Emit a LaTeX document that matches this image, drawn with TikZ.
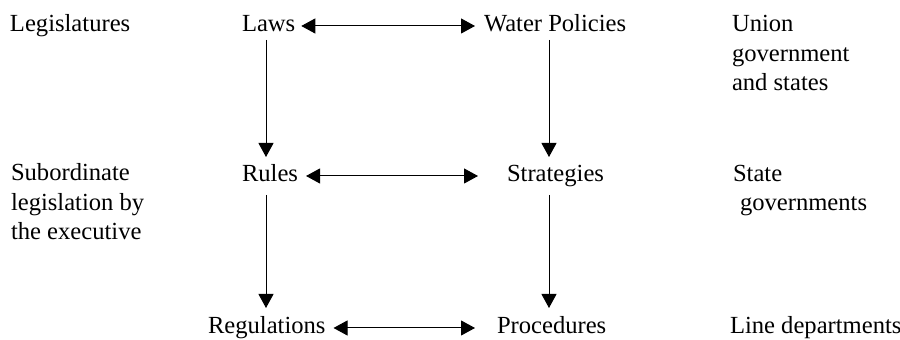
\documentclass[tikz,border=0pt]{standalone}
\usepackage{fontspec}
\setmainfont{Liberation Serif}
\usetikzlibrary{arrows.meta}
\begin{document}
\begin{tikzpicture}[x=0.5pt,y=-0.5pt,
  lbl/.style={anchor=base west,inner sep=0pt,outer sep=0pt,align=left,
    font=\fontsize{12.3}{14.75}\selectfont},
  arr/.style={line width=0.5pt,-{Triangle[length=7pt,width=7.5pt]}},
  dbl/.style={line width=0.5pt,{Triangle[length=7pt,width=7.5pt]}-{Triangle[length=7pt,width=7.5pt]}}]
\useasboundingbox (0,0) rectangle (900,340);
% left column (base anchor = baseline of the last line)
\node[lbl] (leg) at (10,32) {Legislatures};
\node[lbl] (sub) at (11,240) {Subordinate\\legislation by\\the executive};
% middle
\node[lbl] (laws) at (242,32) {Laws};
\node[lbl] (water) at (484,32) {Water Policies};
\node[lbl] (rules) at (242,182) {Rules};
\node[lbl] (strat) at (507,182) {Strategies};
\node[lbl] (regs) at (208,334) {Regulations};
\node[lbl] (proc) at (497,334) {Procedures};
% right column
\node[lbl] (union) at (732,91) {Union\\government\\and states};
\node[lbl] (state) at (733,211) {State\\\hspace{3.5pt}governments};
\node[lbl] (line) at (730,334) {Line departments};
% horizontal
\draw[dbl] ([shift={(6,-6)}]laws.base east) -- ([shift={(-9,-6)}]water.base west);
\draw[dbl] ([shift={(8,-6)}]rules.base east) -- ([shift={(-29,-6)}]strat.base west);
\draw[dbl] ([shift={(8,-6)}]regs.base east) -- ([shift={(-22,-6)}]proc.base west);
% vertical
\draw[arr] ([shift={(24,8)}]laws.base west) -- ([shift={(24,-25)}]rules.base west);
\draw[arr] ([shift={(24,13)}]rules.base west) -- ([shift={(58,-26)}]regs.base west);
\draw[arr] ([shift={(65,8)}]water.base west) -- ([shift={(42,-25)}]strat.base west);
\draw[arr] ([shift={(42,13)}]strat.base west) -- ([shift={(52,-26)}]proc.base west);
\end{tikzpicture}
\end{document}
